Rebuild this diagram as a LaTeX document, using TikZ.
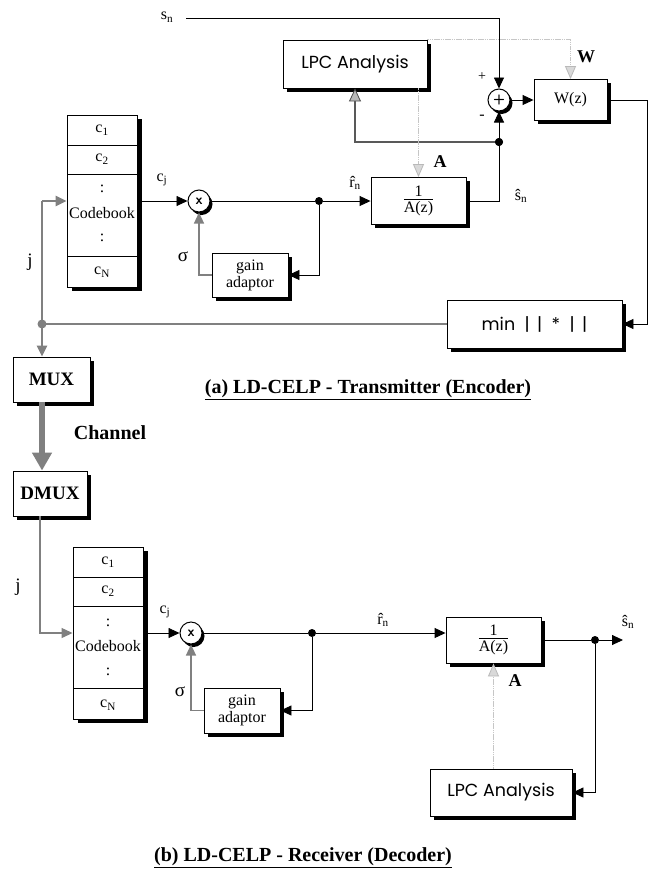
\documentclass[tikz,border=0pt]{standalone}
\usepackage{fontspec}
\setmainfont{Liberation Serif}
\newfontfamily\avant{Poppins}
\usetikzlibrary{arrows.meta,calc,shadows}
\newcommand\myfs[1]{\fontsize{#1}{#1}\selectfont}
\begin{document}
\begin{tikzpicture}[x=1pt,y=-1pt,
  blk/.style={draw,line width=0.9pt,fill=white,inner sep=0pt,
    drop shadow={opacity=1,fill=black,shadow xshift=3.5pt,shadow yshift=-3.5pt}},
  cbk/.style={draw,line width=0.9pt,fill=white,inner sep=0pt,minimum width=70pt,minimum height=172pt,
    drop shadow={opacity=1,fill=black,shadow xshift=4.5pt,shadow yshift=-4pt}},
  sum/.style={circle,draw,line width=1pt,fill=white,minimum size=22pt,inner sep=0pt,
    font=\sffamily\bfseries\myfs{14},
    drop shadow={opacity=1,fill=black,shadow xshift=2.5pt,shadow yshift=-3pt}},
  dotn/.style={circle,fill=black,minimum size=8pt,inner sep=0pt},
  wire/.style={line width=0.9pt},
  arr/.style={-{Triangle[length=11pt,width=10pt]}},
  gwire/.style={draw=gray,line width=1.2pt},
  garr/.style={-{Triangle[length=11pt,width=10pt,fill=gray,color=gray]}},
  gthick/.style={draw=gray,line width=2.4pt},
  chan/.style={draw=gray,line width=6pt,-{Triangle[length=18pt,width=19pt,fill=gray,color=gray]}},
  lhatch/.style={draw=gray!45,line width=1.5pt,dash pattern=on 1.5pt off 0.7pt,
    -{Triangle[length=13pt,width=11pt,fill=gray!30,color=gray!55,line width=0.8pt]}},
  dhatch/.style={draw=black!65,line width=2.6pt,
    -{Triangle[length=13pt,width=12pt,fill=gray!55,color=black!70,line width=0.8pt]}},
  lbl/.style={inner sep=0pt,font=\myfs{16}},
  blbl/.style={inner sep=0pt,font=\bfseries\myfs{18}},
  ttl/.style={inner sep=0pt,font=\bfseries\myfs{20}}]
\useasboundingbox (0,0) rectangle (655,873);
\fill[white] (0,0) rectangle (655,873);

% ===================== (a) transmitter =====================
\node[blk,minimum width=144pt,minimum height=48pt,font=\avant\myfs{17.5}] (lpc1) at (355,64) {LPC Analysis};
\node[sum] (plus) at (499,100) {+};
\node[blk,minimum width=73pt,minimum height=41pt,font=\myfs{16}] (wz) at (570.5,100) {W(z)};
\node[blk,minimum width=175pt,minimum height=48pt,font=\avant\myfs{17.5}] (minb) at (534.5,324) {min \ |\ \,|\ \ *\ \ |\ \,|};
\node[cbk] (cb1) at (102,201) {};
\node[sum] (mult1) at (199,201) {x};
\node[dotn] (dot1) at (319,201) {};
\node[blk,minimum width=95pt,minimum height=47pt,font=\myfs{16}] (inva1) at (418.5,201)
  {\begin{tabular}{@{}c@{}}1\\[-2pt]\hline\rule{0pt}{13pt}A(z)\end{tabular}};
\node[blk,minimum width=76pt,minimum height=44pt,font=\myfs{16},align=center] (gain1) at (250,275) {gain\\[1pt]adaptor};
\node[dotn] (dot2) at (499,142) {};
\node[blk,minimum width=77pt,minimum height=45pt,font=\bfseries\myfs{19}] (mux) at (51.5,379.5) {MUX};
\coordinate (jdot) at (42,324);
\coordinate (jcorner) at (42,201);
\coordinate (snstart) at (186,18);
\coordinate (wturn) at (647,100);

% codebook 1 partitions and labels
\draw[wire] (67,145) -- (137,145);
\draw[wire] (67,174) -- (137,174);
\draw[wire] (67,256) -- (137,256);
\node[lbl] (cb1a) at (102,130) {c\textsubscript{1}};
\node[lbl] (cb1b) at (102,159.5) {c\textsubscript{2}};
\node[lbl] (cb1c) at (102,189) {:};
\node[lbl] (cb1d) at (102,213) {Codebook};
\node[lbl] (cb1e) at (102,238) {:};
\node[lbl] (cb1f) at (102,272) {c\textsubscript{N}};

% wires (a)
\draw[wire,arr] (snstart) -| (plus.north);
\draw[wire,arr] (plus.east) -- (wz.west);
\draw[wire] (wz.east) -- (wturn);
\draw[wire,arr] (wturn) |- (minb.east);
\draw[gwire] (minb.west) -- (jdot);
\fill[gray] (jdot) circle (4.5pt);
\draw[gthick] (jdot) -- (jcorner);
\draw[gthick,garr] (jcorner) -- (cb1.west |- jcorner);
\draw[gthick,garr] (jdot) -- (jdot |- mux.north);
\draw[wire,arr] (cb1.east |- mult1) -- (mult1.west);
\draw[wire] (mult1.east) -- (dot1);
\draw[wire,arr] (dot1) -- (inva1.west);
\draw[wire,arr] (dot1) |- (gain1.east);
\draw[gwire,garr] (gain1.west) -| (mult1.south);
\draw[wire] (inva1.east) -| (dot2);
\draw[wire,arr] (dot2) -- (plus.south);
\draw[dhatch] (dot2) -| (lpc1.south);
\draw[lhatch] (inva1.north |- lpc1.south) -- (inva1.north);
\draw[lhatch] (lpc1.north east) -| (wz.north);
\node[dotn] at (dot2) {};

% labels (a)
\node[lbl] (lsn) at (167,17) {s\textsubscript{n}};
\node[inner sep=0pt,font=\myfs{14}] (lp) at (482,77) {+};
\node[inner sep=0pt,font=\myfs{16}] (lm) at (482,117) {-};
\node[blbl] (lw) at (586,57) {W};
\node[blbl] (la) at (440,162) {A};
\node[lbl] (lr1) at (355,183) {\^{r}\textsubscript{n}};
\node[lbl] (ls1) at (521,196) {\^{s}\textsubscript{n}};
\node[lbl] (lc1) at (162,180) {c\textsubscript{j}};
\node[inner sep=0pt,font=\myfs{19}] (lsig1) at (183,257) {σ};
\node[inner sep=0pt,font=\myfs{19}] (lj1) at (30,262) {j};
\node[ttl] (chl) at (110,433) {Channel};
\node[ttl] (ta) at (368,390) {\underline{(a) LD-CELP - Transmitter (Encoder)}};

% ===================== (b) receiver =====================
\node[blk,minimum width=74pt,minimum height=45pt,font=\bfseries\myfs{19}] (dmux) at (50,493.5) {DMUX};
\draw[chan] (jdot |- mux.south) -- (jdot |- dmux.north);
\node[cbk] (cb2) at (108,633) {};
\node[sum] (mult2) at (191,633) {x};
\node[dotn] (dot3) at (312,633) {};
\node[blk,minimum width=95pt,minimum height=46pt,font=\myfs{16}] (inva2) at (493.5,640)
  {\begin{tabular}{@{}c@{}}1\\[-2pt]\hline\rule{0pt}{13pt}A(z)\end{tabular}};
\node[blk,minimum width=76pt,minimum height=45pt,font=\myfs{16},align=center] (gain2) at (242,710.5) {gain\\[1pt]adaptor};
\node[blk,minimum width=142pt,minimum height=47pt,font=\avant\myfs{17.5}] (lpc2) at (501,792.5) {LPC Analysis};
\node[dotn] (dot4) at (595,640) {};
\coordinate (sout) at (623,640);

\draw[wire] (73,577) -- (143,577);
\draw[wire] (73,606) -- (143,606);
\draw[wire] (73,688) -- (143,688);
\node[lbl] (cb2a) at (108,562) {c\textsubscript{1}};
\node[lbl] (cb2b) at (108,591.5) {c\textsubscript{2}};
\node[lbl] (cb2c) at (108,623) {:};
\node[lbl] (cb2d) at (108,646) {Codebook};
\node[lbl] (cb2e) at (108,672) {:};
\node[lbl] (cb2f) at (108,705) {c\textsubscript{N}};

\draw[gwire,garr] ([xshift=-10pt]dmux.south) |- (cb2.west);
\draw[wire,arr] (cb2.east |- mult2) -- (mult2.west);
\draw[wire] (mult2.east) -- (dot3);
\draw[wire,arr] (dot3) -- (inva2.west |- dot3);
\draw[wire,arr] (dot3) |- (gain2.east);
\draw[gwire,garr] (gain2.west) -| (mult2.south);
\draw[wire] (inva2.east) -- (dot4);
\draw[wire,arr] (dot4) -- (sout);
\draw[wire,arr] (dot4) |- (lpc2.east);
\draw[lhatch] (inva2.south |- lpc2.north) -- (inva2.south);

\node[inner sep=0pt,font=\myfs{19}] (lj2) at (18,587) {j};
\node[lbl] (lc2) at (165,612) {c\textsubscript{j}};
\node[inner sep=0pt,font=\myfs{19}] (lsig2) at (180,692) {σ};
\node[lbl] (lr2) at (383,620) {\^{r}\textsubscript{n}};
\node[lbl] (ls2) at (628,622) {\^{s}\textsubscript{n}};
\node[blbl] (la2) at (515,681) {A};
\node[ttl] (tb) at (303,858) {\underline{(b) LD-CELP - Receiver (Decoder)}};
\end{tikzpicture}
\end{document}
